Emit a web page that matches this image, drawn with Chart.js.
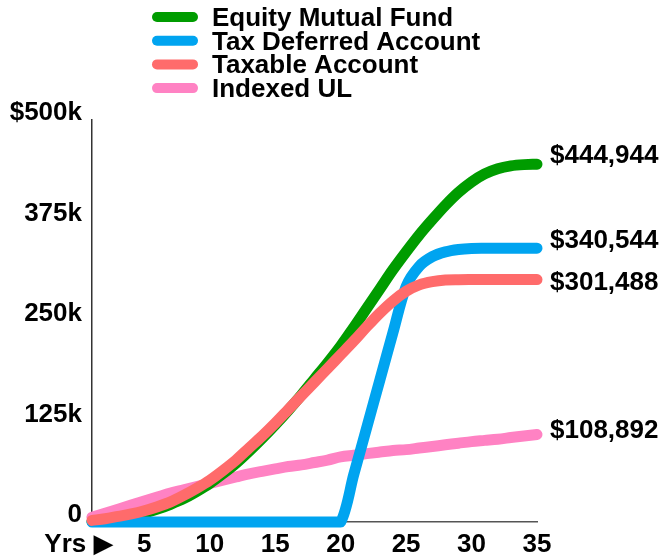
<!DOCTYPE html>
<html>
<head>
<meta charset="utf-8">
<script src="https://cdn.jsdelivr.net/npm/chart.js@4.4.1/dist/chart.umd.min.js"></script>
<style>
  html, body { margin: 0; padding: 0; background: #fff; }
  #wrap { width: 662px; height: 559px; }
</style>
</head>
<body>
<div id="wrap"><canvas id="chart" width="662" height="559"></canvas></div>
<script>
// values, in dollars
const years = [1, 2, 3, 4, 5, 6, 7, 8, 9, 10, 11, 12, 13, 14, 15, 16, 17, 18,
  19, 20, 21, 22, 23, 24, 25, 26, 27, 28, 29, 30, 31, 32, 33, 34, 35];

const equityFund = [500, 2000, 4000, 7000, 11000, 16000, 22000, 29000, 38000, 48000,
  60000, 73000, 88000, 104000, 121000, 139000, 158000, 178000, 198000, 219000,
  242000, 266000, 290000, 314000, 336000, 357000, 376000, 394000, 410000, 423000,
  433000, 439500, 443000, 444500, 444944];

const taxDeferred = [0, 0, 0, 0, 0, 0, 0, 0, 0, 0,
  0, 0, 0, 0, 0, 0, 0, 0, 0, 0,
  59000, 118000, 177000, 236000, 293000, 318000, 330000, 336000, 339000, 340300,
  340500, 340544, 340544, 340544, 340544];

const taxable = [2000, 4000, 7000, 10000, 14000, 19000, 25000, 33000, 42000, 52000,
  64000, 77000, 92000, 107000, 123000, 140000, 157000, 174000, 191000, 208000,
  225000, 243000, 260000, 275000, 287000, 295000, 299000, 301000, 301400, 301488,
  301488, 301488, 301488, 301488, 301488];

const indexedUL = [6000, 11000, 16000, 21000, 26000, 31000, 36000, 40000, 44000, 48000,
  52000, 56000, 60000, 63000, 66000, 69000, 71000, 74000, 77000, 81000,
  83000, 85000, 87000, 89000, 90000, 92000, 94000, 96000, 98000, 100000,
  101500, 103000, 105000, 107000, 108892];

const seriesNames = ['Equity Mutual Fund', 'Tax Deferred Account', 'Taxable Account', 'Indexed UL'];
const seriesValues = [equityFund, taxDeferred, taxable, indexedUL];
const seriesColors = ['#009c00', '#00a4f0', '#ff6b6b', '#ff82c3'];
const drawOrder = [2, 1, 0, 3]; // taxable on top, indexed UL at the back

const yTicks = [0, 125000, 250000, 375000, 500000];
const yTickLabels = ['0', '125k', '250k', '375k', '$500k'];
const xTicks = [0, 5, 10, 15, 20, 25, 30, 35];
const xTickLabels = ['Yrs \u25B6', '5', '10', '15', '20', '25', '30', '35'];

// small vertical nudges for the end-of-line value labels
const endLabelNudge = [-10, -9, 1, -5];

const FONT = '"Liberation Sans", Arial, "DejaVu Sans", sans-serif';

// legend stacked in a column at the top
const stackedLegend = {
  id: 'stackedLegend',
  afterDraw(chart) {
    const ctx = chart.ctx;
    ctx.save();
    ctx.font = 'bold 26px ' + FONT;
    ctx.textAlign = 'left';
    ctx.textBaseline = 'alphabetic';
    ctx.lineCap = 'round';
    ctx.lineWidth = 10;
    seriesNames.forEach((name, i) => {
      const cy = 17 + i * 23.7;
      ctx.strokeStyle = seriesColors[i];
      ctx.beginPath();
      ctx.moveTo(157, cy);
      ctx.lineTo(193, cy);
      ctx.stroke();
      ctx.fillStyle = '#000';
      ctx.fillText(name, 212, cy + 9);
    });
    ctx.restore();
  }
};

// final values written at the right end of each line
const endLabels = {
  id: 'endLabels',
  afterDatasetsDraw(chart) {
    const ctx = chart.ctx;
    ctx.save();
    ctx.font = 'bold 26px ' + FONT;
    ctx.textAlign = 'left';
    ctx.textBaseline = 'alphabetic';
    ctx.fillStyle = '#000';
    chart.data.datasets.forEach((ds, i) => {
      const pts = chart.getDatasetMeta(i).data;
      const last = pts[pts.length - 1];
      const v = ds.data[ds.data.length - 1].y;
      ctx.fillText('$' + v.toLocaleString('en-US'), last.x + 13, last.y + endLabelNudge[i] + 9);
    });
    ctx.restore();
  }
};

const ctx = document.getElementById('chart').getContext('2d');
new Chart(ctx, {
  type: 'line',
  data: {
    datasets: seriesNames.map((name, i) => ({
      label: name,
      data: years.map((yr, j) => ({ x: yr, y: seriesValues[i][j] })),
      borderColor: seriesColors[i],
      backgroundColor: seriesColors[i],
      borderWidth: 11,
      borderCapStyle: 'round',
      borderJoinStyle: 'round',
      pointRadius: 0,
      pointHoverRadius: 0,
      // the tax deferred line turns sharply at year 20
      cubicInterpolationMode: i === 1 ? 'default' : 'monotone',
      tension: i === 1 ? 0.3 : 0.4,
      fill: false,
      clip: false,
      order: drawOrder[i]
    }))
  },
  options: {
    responsive: false,
    animation: false,
    layout: { padding: { top: 120, right: 125, left: 0, bottom: 0 } },
    plugins: {
      legend: { display: false },
      tooltip: { enabled: false }
    },
    scales: {
      x: {
        type: 'linear',
        min: 1,
        max: 35,
        afterBuildTicks: (scale) => { scale.ticks = xTicks.map(v => ({ value: v })); },
        afterFit: (scale) => { scale.height = 37; },
        grid: { display: false, drawTicks: false },
        border: { display: true, color: '#555', width: 1.5 },
        ticks: {
          autoSkip: false,
          maxRotation: 0,
          minRotation: 0,
          padding: 7,
          color: '#000',
          font: { family: FONT, size: 26, weight: 'bold' },
          callback: (value, index) => xTickLabels[index]
        }
      },
      y: {
        min: 0,
        max: 500000,
        afterBuildTicks: (scale) => { scale.ticks = yTicks.map(v => ({ value: v })); },
        afterFit: (scale) => { scale.width = 92; },
        grid: { display: false, drawTicks: false },
        border: { display: true, color: '#333', width: 1.5 },
        ticks: {
          padding: 10,
          labelOffset: -7,
          color: '#000',
          font: { family: FONT, size: 26, weight: 'bold' },
          callback: (value, index) => yTickLabels[index]
        }
      }
    }
  },
  plugins: [stackedLegend, endLabels]
});
</script>
</body>
</html>
